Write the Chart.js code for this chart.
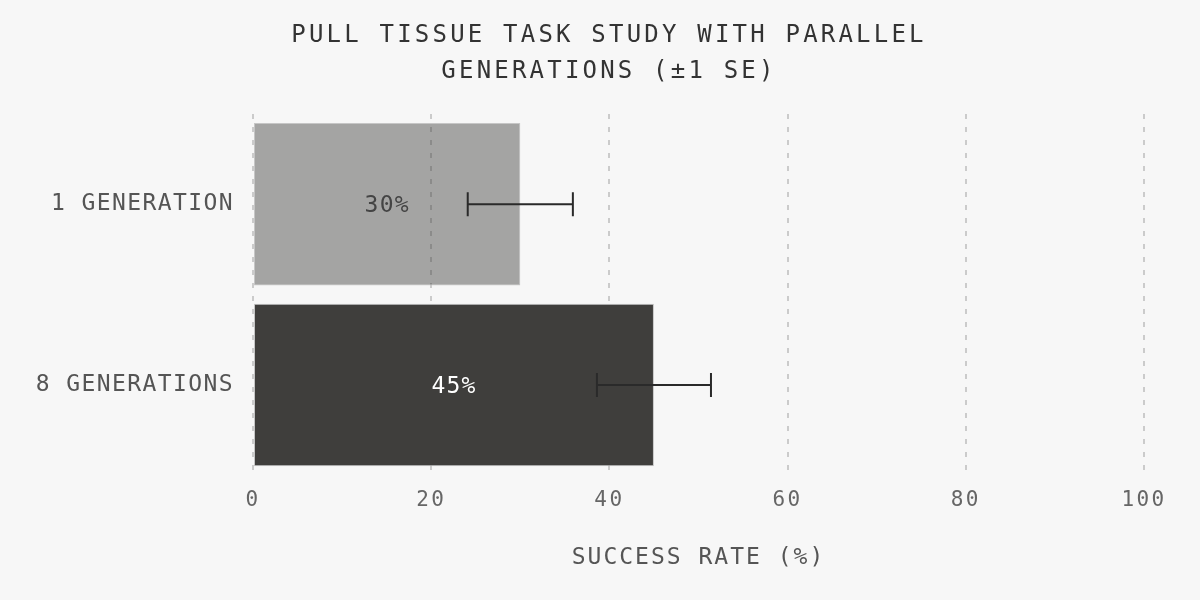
<!DOCTYPE html>
<html>
<head>
<meta charset="utf-8">
<script src="https://cdn.jsdelivr.net/npm/chart.js@4"></script>
<style>
  html, body { margin: 0; padding: 0; background: #f7f7f7; }
  #wrap { width: 1200px; height: 600px; }
</style>
</head>
<body>
<div id="wrap"><canvas id="c" width="1200" height="600"></canvas></div>
<script>
const categories = ['1 GENERATION', '8 GENERATIONS'];
const successRate = [30, 45];
const standardError = [5.9, 6.4];
const xTicks = [0, 20, 40, 60, 80, 100];
const barColors = ['rgba(62,61,59,0.45)', '#3f3e3c'];
const labelColors = ['#444444', '#ffffff'];

const FONT = "'DejaVu Sans Mono', 'Liberation Mono', monospace";

function patchSpacing(obj, method, spacing) {
  const orig = obj[method];
  if (!orig || orig.__patched) return;
  const f = function (...args) {
    const ctx = this.ctx;
    const prev = ctx.letterSpacing;
    ctx.letterSpacing = spacing;
    try { return orig.apply(this, args); } finally { ctx.letterSpacing = prev; }
  };
  f.__patched = true;
  obj[method] = f;
}

const spacingPlugin = {
  id: 'spacing',
  afterLayout(chart) {
    // the reference title is centred slightly left of the plot area
    if (chart.titleBlock) chart.titleBlock.left = 74;
  },
  beforeDraw(chart) {
    if (chart.titleBlock) patchSpacing(chart.titleBlock, 'draw', '3.2px');
    const x = chart.scales.x, y = chart.scales.y;
    patchSpacing(x, 'drawLabels', '2.4px');
    patchSpacing(x, 'drawTitle', '2px');
    patchSpacing(y, 'drawLabels', '1.4px');
  }
};

const errorBarPlugin = {
  id: 'errorBars',
  afterDatasetsDraw(chart) {
    const ctx = chart.ctx;
    const xs = chart.scales.x;
    const meta = chart.getDatasetMeta(0);
    ctx.save();
    ctx.strokeStyle = '#2a2a2a';
    ctx.lineWidth = 2;
    meta.data.forEach((bar, i) => {
      const v = successRate[i], se = standardError[i];
      const xl = xs.getPixelForValue(v - se);
      const xr = xs.getPixelForValue(v + se);
      const y = bar.y;
      const cap = 12;
      ctx.beginPath();
      ctx.moveTo(xl, y); ctx.lineTo(xr, y);
      ctx.moveTo(xl, y - cap); ctx.lineTo(xl, y + cap);
      ctx.moveTo(xr, y - cap); ctx.lineTo(xr, y + cap);
      ctx.stroke();
    });
    ctx.restore();
  }
};

const valueLabelPlugin = {
  id: 'valueLabels',
  afterDatasetsDraw(chart) {
    const ctx = chart.ctx;
    const meta = chart.getDatasetMeta(0);
    ctx.save();
    ctx.font = "23px " + FONT;
    ctx.letterSpacing = '1.2px';
    ctx.textAlign = 'center';
    ctx.textBaseline = 'middle';
    meta.data.forEach((bar, i) => {
      const cx = (bar.base + bar.x) / 2;
      ctx.fillStyle = labelColors[i];
      ctx.fillText(successRate[i] + '%', cx, bar.y + 2);
    });
    ctx.restore();
  }
};

new Chart(document.getElementById('c'), {
  type: 'bar',
  data: {
    labels: categories,
    datasets: [{
      data: successRate,
      backgroundColor: barColors,
      borderColor: '#c6c6c6',
      borderWidth: 1,
      borderSkipped: false,
      categoryPercentage: 0.9,
      barPercentage: 1.0
    }]
  },
  options: {
    indexAxis: 'y',
    responsive: false,
    animation: false,
    devicePixelRatio: 1,
    layout: { padding: { top: 18, left: 0, right: 56, bottom: 0 } },
    plugins: {
      legend: { display: false },
      tooltip: { enabled: false },
      title: {
        display: true,
        text: ['PULL TISSUE TASK STUDY WITH PARALLEL', 'GENERATIONS (±1 SE)'],
        color: '#333333',
        font: { family: FONT, size: 24, weight: 'normal', lineHeight: 1.5 },
        padding: { top: 0, bottom: 24 }
      }
    },
    scales: {
      x: {
        min: 0,
        max: 100,
        afterBuildTicks(scale) { scale.ticks = xTicks.map(v => ({ value: v })); },
        grid: {
          display: true,
          drawTicks: false,
          color: '#cbcbcb',
          lineWidth: 2
        },
        border: { display: false, dash: [5, 8] },
        ticks: {
          color: '#666666',
          padding: 13,
          font: { family: FONT, size: 21 }
        },
        title: {
          display: true,
          text: 'SUCCESS RATE (%)',
          color: '#555555',
          font: { family: FONT, size: 23 },
          padding: { top: 18, bottom: 28 }
        }
      },
      y: {
        afterFit(scale) { scale.width = 253; },
        grid: { display: false },
        border: { display: false },
        ticks: {
          color: '#555555',
          padding: 11,
          font: { family: FONT, size: 23 }
        }
      }
    }
  },
  plugins: [spacingPlugin, errorBarPlugin, valueLabelPlugin]
});
</script>
</body>
</html>
